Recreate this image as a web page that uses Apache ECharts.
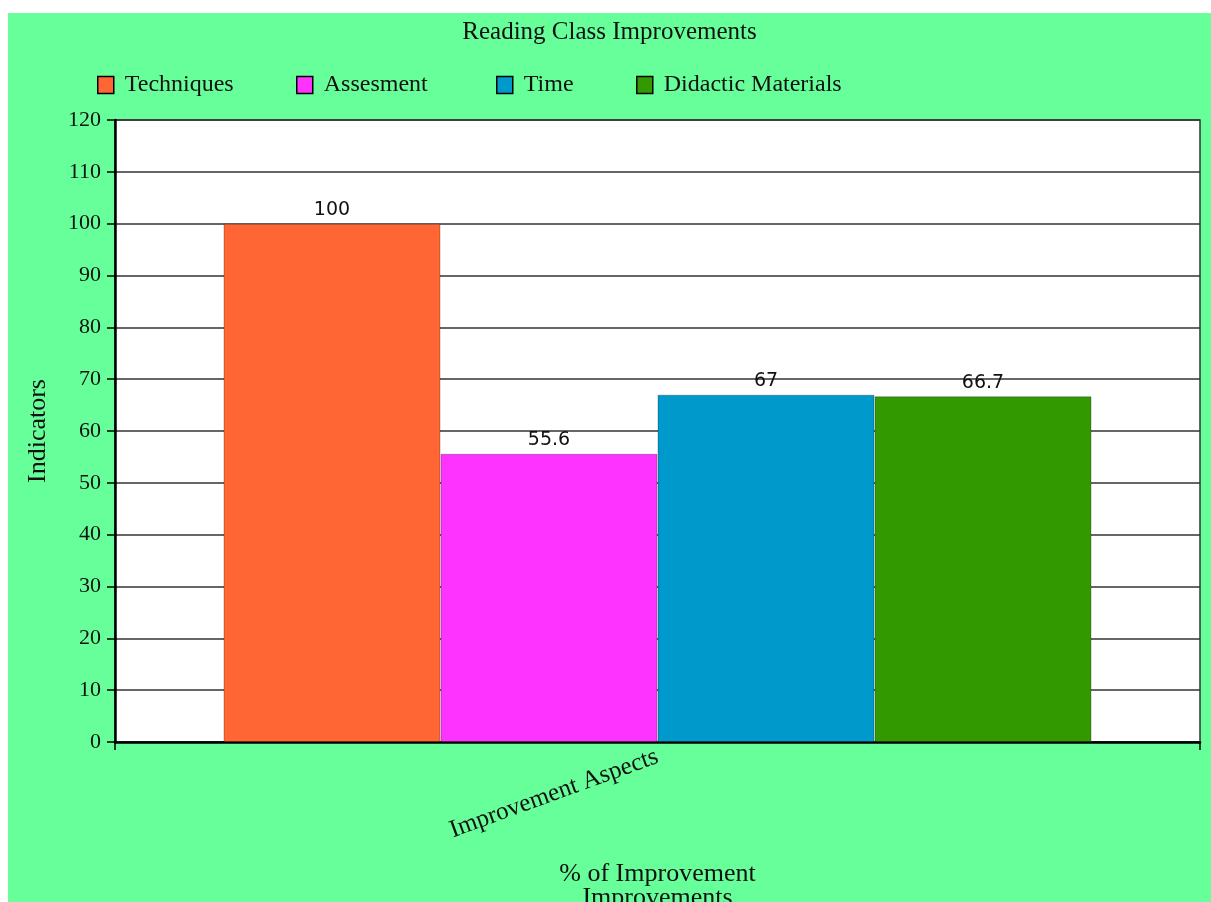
<!DOCTYPE html>
<html>
<head>
<meta charset="utf-8">
<script src="https://cdn.jsdelivr.net/npm/echarts@6/dist/echarts.min.js"></script>
<style>
  html, body { margin: 0; padding: 0; background: #ffffff; width: 1211px; height: 902px; overflow: hidden; }
  #chart { position: absolute; left: 8px; top: 13px; width: 1203px; height: 889px; }
</style>
</head>
<body>
<div id="chart"></div>
<script>
const titleText = 'Reading Class Improvements';
const categories = ['Improvement Aspects'];
const seriesNames = ['Techniques', 'Assesment', 'Time', 'Didactic Materials'];
const seriesValues = [[100], [55.6], [67], [66.7]];
const seriesColors = ['#FF6633', '#FF33FF', '#0099CC', '#339900'];
const yAxisName = 'Indicators';
const xAxisName = '% of Improvement\nImprovements';
const legendLefts = [84, 283, 483, 623];

const FONT = '"Liberation Serif", "DejaVu Serif", serif';
const chart = echarts.init(document.getElementById('chart'), null, { renderer: 'canvas' });

const legends = seriesNames.map((n, i) => ({
  data: [n],
  left: legendLefts[i],
  top: 55,
  icon: 'rect',
  itemWidth: 16,
  itemHeight: 17,
  itemStyle: { borderColor: '#000', borderWidth: 1.5 },
  textStyle: { fontFamily: FONT, fontSize: 24, color: '#111', padding: [0, 0, 0, 6] }
}));

chart.setOption({
  backgroundColor: '#66FF99',
  animation: false,
  title: {
    text: titleText,
    left: 'center',
    top: 2,
    textStyle: { fontFamily: FONT, fontSize: 25, fontWeight: 'normal', color: '#111' }
  },
  legend: legends,
  grid: {
    left: 107, top: 107, right: 11, bottom: 160,
    outerBoundsMode: 'none',
    containLabel: false,
    show: true, backgroundColor: '#ffffff', borderColor: '#333', borderWidth: 1.5
  },
  xAxis: {
    type: 'category',
    data: categories,
    name: xAxisName,
    nameLocation: 'middle',
    nameGap: 120,
    nameTextStyle: { fontFamily: FONT, fontSize: 26, color: '#111', lineHeight: 24 },
    axisLine: { lineStyle: { color: '#000', width: 2.5 } },
    axisTick: { show: true, length: 8, lineStyle: { color: '#000', width: 1.5 } },
    axisLabel: { rotate: 20, margin: 14, fontFamily: FONT, fontSize: 25, color: '#111' }
  },
  yAxis: {
    type: 'value',
    min: 0, max: 120, interval: 10,
    name: yAxisName,
    nameLocation: 'middle',
    nameGap: 64,
    nameTextStyle: { fontFamily: FONT, fontSize: 26, color: '#111' },
    axisLine: { show: true, lineStyle: { color: '#000', width: 2.5 } },
    axisTick: { show: true, length: 8, lineStyle: { color: '#000', width: 1.5 } },
    axisLabel: { margin: 14, fontFamily: FONT, fontSize: 22, color: '#111' },
    splitLine: { lineStyle: { color: '#333', width: 1.5 } }
  },
  series: seriesNames.map((n, i) => ({
    name: n,
    type: 'bar',
    data: seriesValues[i],
    barGap: '0%',
    barCategoryGap: '20%',
    itemStyle: { color: seriesColors[i], borderColor: 'rgba(0,0,0,0.25)', borderWidth: 1 },
    label: {
      show: true, position: 'top', distance: 4,
      fontFamily: '"DejaVu Sans", sans-serif', fontSize: 19, color: '#111'
    }
  }))
});
</script>
</body>
</html>
